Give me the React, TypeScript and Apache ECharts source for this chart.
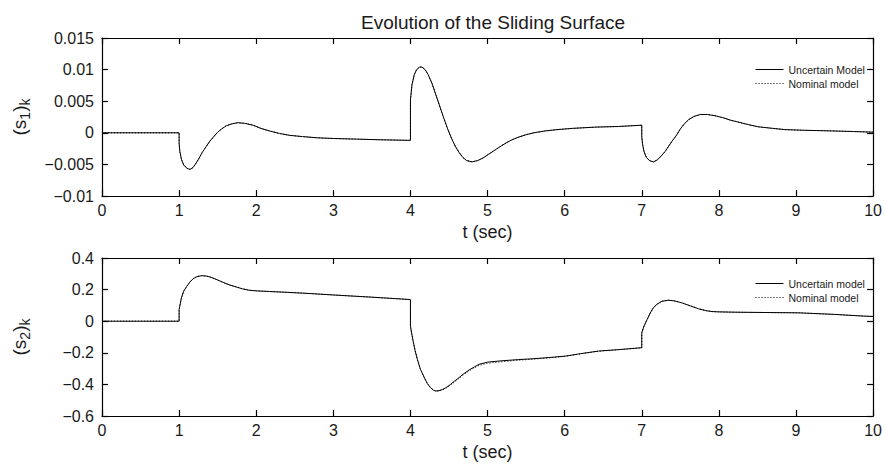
import React, { useEffect, useRef } from "react";
import * as echarts from "echarts";

// ---- Data ----
const xTicks = [0, 1, 2, 3, 4, 5, 6, 7, 8, 9, 10];

// (s1)_k : time points and values
const t1 = [
  0, 1.0, 1.0, 1.01, 1.03, 1.06, 1.1, 1.14, 1.18, 1.22, 1.26, 1.3, 1.35, 1.4, 1.45, 1.5, 1.55, 1.61, 1.68, 1.76,
  1.85, 1.96, 2.06, 2.17, 2.3, 2.43, 2.6, 2.8, 3.0, 3.3, 3.6, 4.0, 4.0, 4.02, 4.05, 4.08, 4.12, 4.15, 4.19, 4.23,
  4.28, 4.33, 4.38, 4.43, 4.48, 4.53, 4.58, 4.63, 4.68, 4.73, 4.8, 4.87, 4.94, 5.0, 5.1, 5.2, 5.3, 5.4, 5.5, 5.6,
  5.75, 5.9, 6.1, 6.4, 6.7, 7.0, 7.0, 7.01, 7.03, 7.06, 7.1, 7.15, 7.2, 7.25, 7.3, 7.35, 7.4, 7.45, 7.5, 7.55,
  7.61, 7.68, 7.76, 7.85, 7.95, 8.05, 8.15, 8.25, 8.38, 8.51, 8.7, 8.86, 9.1, 9.46, 9.75, 10.0,
];
const s1Uncertain = [
  0, 0, -0.0017, -0.003, -0.0042, -0.0051, -0.0056, -0.0058, -0.0055, -0.0048, -0.004, -0.0031, -0.0022, -0.0013,
  -0.0006, 0.0001, 0.0006, 0.0011, 0.0014, 0.0016, 0.0015, 0.0012, 0.0007, 0.0003, -0.0001, -0.0004, -0.0006,
  -0.0008, -0.0009, -0.001, -0.0011, -0.0012, 0.0052, 0.0076, 0.0092, 0.01, 0.0104, 0.0104, 0.01, 0.0092, 0.0078,
  0.006, 0.0042, 0.0024, 0.0007, -0.0008, -0.0021, -0.0031, -0.0039, -0.0044, -0.0046, -0.0044, -0.004, -0.0035,
  -0.0027, -0.0019, -0.0012, -0.0007, -0.0003, 0.0, 0.0003, 0.0005, 0.0007, 0.0009, 0.001, 0.0012, -0.0006, -0.0018,
  -0.003, -0.0039, -0.0044, -0.0046, -0.0043, -0.0037, -0.003, -0.0021, -0.0012, -0.0004, 0.0006, 0.0014, 0.0021,
  0.0026, 0.0029, 0.0029, 0.0027, 0.0024, 0.002, 0.0017, 0.0013, 0.00095, 0.0007, 0.0005, 0.0004, 0.0003, 0.0002,
  0.0001,
];
// the nominal model coincides with the uncertain one in the top panel
const s1Nominal = s1Uncertain;

// (s2)_k : time points and values
const t2 = [
  0, 1.0, 1.0, 1.03, 1.06, 1.1, 1.14, 1.18, 1.23, 1.29, 1.35, 1.4, 1.48, 1.57, 1.65, 1.74, 1.82, 1.91, 2.0, 2.17,
  2.39, 2.7, 3.0, 3.5, 4.0, 4.0, 4.03, 4.06, 4.09, 4.13, 4.18, 4.22, 4.26, 4.3, 4.33, 4.37, 4.42, 4.47, 4.52, 4.57,
  4.63, 4.69, 4.76, 4.83, 4.89, 5.0, 5.2, 5.4, 5.58, 5.8, 6.01, 6.2, 6.44, 6.7, 7.0, 7.0, 7.03, 7.07, 7.11, 7.15,
  7.2, 7.26, 7.35, 7.43, 7.52, 7.63, 7.74, 7.83, 7.91, 8.0, 8.21, 8.6, 9.03, 9.5, 9.89, 10.0,
];
const s2Uncertain = [
  0, 0, 0.074, 0.148, 0.19, 0.221, 0.248, 0.268, 0.282, 0.288, 0.286, 0.28, 0.265, 0.246, 0.23, 0.217, 0.205, 0.196,
  0.192, 0.188, 0.183, 0.175, 0.166, 0.152, 0.137, -0.032, -0.115, -0.185, -0.242, -0.305, -0.357, -0.395, -0.42,
  -0.437, -0.442, -0.44, -0.431, -0.418, -0.4, -0.38, -0.357, -0.333, -0.309, -0.289, -0.273, -0.259, -0.25, -0.243,
  -0.238, -0.23, -0.221, -0.206, -0.189, -0.18, -0.168, -0.073, -0.03, 0.011, 0.052, 0.085, 0.108, 0.126, 0.133,
  0.128, 0.116, 0.097, 0.078, 0.067, 0.061, 0.059, 0.057, 0.055, 0.053, 0.043, 0.032, 0.03,
];
const s2Nominal = [
  0, 0, 0.074, 0.148, 0.19, 0.221, 0.248, 0.268, 0.282, 0.288, 0.286, 0.28, 0.265, 0.246, 0.23, 0.217, 0.205, 0.196,
  0.192, 0.188, 0.183, 0.175, 0.166, 0.152, 0.137, -0.032, -0.115, -0.185, -0.242, -0.305, -0.357, -0.395, -0.42,
  -0.437, -0.442, -0.441, -0.433, -0.421, -0.404, -0.385, -0.362, -0.338, -0.314, -0.295, -0.28, -0.266, -0.256,
  -0.247, -0.241, -0.232, -0.222, -0.207, -0.19, -0.18, -0.168, -0.073, -0.03, 0.011, 0.052, 0.085, 0.108, 0.126,
  0.133, 0.128, 0.116, 0.097, 0.078, 0.067, 0.061, 0.059, 0.057, 0.055, 0.053, 0.043, 0.032, 0.03,
];

const titleText = "Evolution of the Sliding Surface";
const xName = "t (sec)";
const legendTop = ["Uncertain Model", "Nominal model"];
const legendBottom = ["Uncertain model", "Nominal model"];

const FONT = "'Liberation Sans', Arial, Helvetica, sans-serif";
const INK = "#1a1a1a";

const pairs = (t: number[], v: number[]) => t.map((x, i) => [x, v[i]]);
const minusFmt = (digits: number) => (v: number) => {
  const r = Math.round(v * Math.pow(10, digits)) / Math.pow(10, digits);
  return String(r).replace("-", "\u2212");
};
const mkLine = () => ({ show: true, onZero: false, lineStyle: { color: "#000", width: 1.2 } });
const mkTick = () => ({ show: true, inside: true, length: 6, lineStyle: { color: "#000", width: 1.2 } });

export default function App() {
  const ref = useRef<HTMLDivElement>(null);
  useEffect(() => {
    if (!ref.current) return;
    const chart = echarts.init(ref.current, undefined, { renderer: "svg" });
    const grids = [
      { left: 102, top: 38, width: 773, height: 158 },
      { left: 102, top: 258, width: 773, height: 158 },
    ];
    const mkX = (g: number, pos: "bottom" | "top") => ({
      type: "value",
      gridIndex: g,
      position: pos,
      min: xTicks[0],
      max: xTicks[xTicks.length - 1],
      interval: 1,
      axisLine: mkLine(),
      axisTick: mkTick(),
      splitLine: { show: false },
      axisLabel:
        pos === "bottom"
          ? { show: true, fontSize: 16, color: INK, fontFamily: FONT, margin: 6 }
          : { show: false },
      name: pos === "bottom" ? xName : "",
      nameLocation: "middle",
      nameGap: 27,
      nameTextStyle: { fontSize: 18, color: INK, fontFamily: FONT },
    });
    const mkY = (
      g: number,
      pos: "left" | "right",
      min: number,
      max: number,
      interval: number,
      digits: number,
      sub: string
    ) => ({
      type: "value",
      gridIndex: g,
      position: pos,
      min,
      max,
      interval,
      axisLine: mkLine(),
      axisTick: mkTick(),
      splitLine: { show: false },
      axisLabel:
        pos === "left"
          ? { show: true, fontSize: 16, color: INK, fontFamily: FONT, margin: 8, formatter: minusFmt(digits) }
          : { show: false },
      name: pos === "left" ? `{m|(s}{s|${sub}}{m|)}{s|k}` : "",
      nameLocation: "middle",
      nameRotate: 90,
      nameGap: 70,
      nameTextStyle: {
        fontFamily: FONT,
        color: INK,
        rich: {
          m: { fontSize: 19, lineHeight: 26, color: INK, fontFamily: FONT },
          s: { fontSize: 14, lineHeight: 13, verticalAlign: "bottom", color: INK, fontFamily: FONT },
        },
      },
    });
    const mkLegend = (top: number, data: string[]) => ({
      left: 750,
      top,
      orient: "vertical",
      itemWidth: 28,
      itemHeight: 10,
      itemGap: 3,
      itemStyle: { opacity: 0 },
      lineStyle: { width: 1 },
      textStyle: { fontSize: 10.5, color: INK, fontFamily: FONT },
      data,
    });
    const mkSeries = (name: string, axis: number, t: number[], v: number[], dotted: boolean, z: number) => ({
      name,
      type: "line",
      xAxisIndex: axis,
      yAxisIndex: axis,
      data: pairs(t, v),
      showSymbol: false,
      symbol: "none",
      lineStyle: { color: "#000", width: 1, type: dotted ? [1, 2] : "solid" },
      itemStyle: { color: "#000" },
      z,
    });
    const option: any = {
      animation: false,
      backgroundColor: "#fff",
      title: {
        text: titleText,
        left: 488,
        textAlign: "center",
        top: 8,
        textStyle: { fontSize: 19, fontWeight: "normal", color: INK, fontFamily: FONT },
      },
      grid: grids,
      xAxis: [mkX(0, "bottom"), mkX(0, "top"), mkX(1, "bottom"), mkX(1, "top")],
      yAxis: [
        mkY(0, "left", -0.01, 0.015, 0.005, 3, "1"),
        mkY(0, "right", -0.01, 0.015, 0.005, 3, "1"),
        mkY(1, "left", -0.6, 0.4, 0.2, 1, "2"),
        mkY(1, "right", -0.6, 0.4, 0.2, 1, "2"),
      ],
      legend: [mkLegend(59, legendTop), mkLegend(273, legendBottom)],
      series: [
        mkSeries(legendTop[0], 0, t1, s1Uncertain, false, 3),
        mkSeries(legendTop[1], 0, t1, s1Nominal, true, 2),
        mkSeries(legendBottom[0], 2, t2, s2Uncertain, false, 3),
        mkSeries(legendBottom[1], 2, t2, s2Nominal, true, 2),
      ],
    };
    chart.setOption(option);
    return () => chart.dispose();
  }, []);
  return <div ref={ref} style={{ width: 885, height: 466, position: "absolute", left: 0, top: 0 }} />;
}
